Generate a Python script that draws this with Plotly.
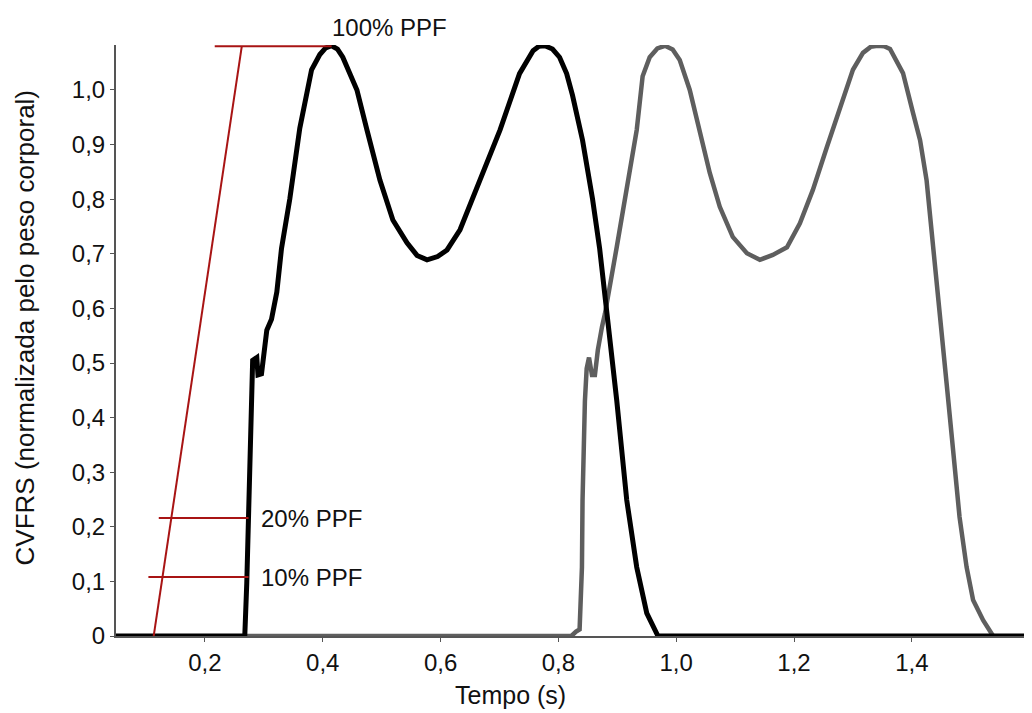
import plotly.graph_objects as go

# ---- data ----
black_t = [0.049, 0.2676, 0.271, 0.276, 0.2795, 0.281, 0.288, 0.290, 0.296, 0.305, 0.313, 0.322,
           0.330, 0.344, 0.361, 0.373, 0.381, 0.395, 0.405, 0.415, 0.425, 0.434, 0.458, 0.475,
           0.497, 0.519, 0.543, 0.560, 0.577, 0.595, 0.611, 0.633, 0.667, 0.701, 0.734, 0.757,
           0.767, 0.777, 0.790, 0.802, 0.814, 0.824, 0.841, 0.858, 0.870, 0.882, 0.899, 0.916,
           0.933, 0.950, 0.969, 1.604]
black_v = [0, 0, 0.097, 0.29, 0.41, 0.505, 0.51, 0.478, 0.48, 0.56, 0.58, 0.63,
           0.71, 0.80, 0.93, 0.99, 1.037, 1.065, 1.077, 1.081, 1.075, 1.06, 1.0, 0.927,
           0.835, 0.762, 0.72, 0.697, 0.689, 0.695, 0.707, 0.744, 0.835, 0.927, 1.03, 1.072,
           1.08, 1.081, 1.075, 1.06, 1.03, 0.99, 0.908, 0.80, 0.71, 0.60, 0.432, 0.249,
           0.126, 0.042, 0, 0]

gray_t = [0.268, 0.822, 0.830, 0.836, 0.840, 0.841, 0.845, 0.848, 0.852, 0.857, 0.862, 0.867,
          0.874, 0.879, 0.899, 0.916, 0.933, 0.943, 0.955, 0.968, 0.981, 0.994, 1.006, 1.023,
          1.040, 1.057, 1.074, 1.096, 1.120, 1.142, 1.164, 1.188, 1.210, 1.232, 1.256, 1.278,
          1.300, 1.317, 1.330, 1.342, 1.353, 1.363, 1.385, 1.402, 1.414, 1.425, 1.436, 1.448,
          1.459, 1.470, 1.481, 1.493, 1.504, 1.521, 1.538]
gray_v = [0, 0, 0.008, 0.012, 0.126, 0.249, 0.43, 0.49, 0.51, 0.478, 0.478, 0.524,
          0.566, 0.59, 0.712, 0.822, 0.927, 1.025, 1.06, 1.076, 1.081, 1.074, 1.055, 1.0,
          0.927, 0.848, 0.786, 0.731, 0.701, 0.689, 0.698, 0.712, 0.756, 0.817, 0.896, 0.969,
          1.037, 1.068, 1.079, 1.081, 1.08, 1.075, 1.031, 0.958, 0.908, 0.835, 0.72, 0.585,
          0.463, 0.341, 0.218, 0.126, 0.066, 0.029, 0]

onset_t = [0.113, 0.2625]
onset_v = [0.0, 1.08]

ppf_levels = [1.08, 0.216, 0.108]
ppf_start = [0.2166, 0.1216, 0.104]
ppf_end = [0.415, 0.274, 0.274]
ppf_labels = ["100% PPF", "20% PPF", "10% PPF"]

x_ticks = [0.2, 0.4, 0.6, 0.8, 1.0, 1.2, 1.4]
x_ticktext = ["0,2", "0,4", "0,6", "0,8", "1,0", "1,2", "1,4"]
y_ticks = [0, 0.1, 0.2, 0.3, 0.4, 0.5, 0.6, 0.7, 0.8, 0.9, 1.0]
y_ticktext = ["0", "0,1", "0,2", "0,3", "0,4", "0,5", "0,6", "0,7", "0,8", "0,9", "1,0"]

x_title = "Tempo (s)"
y_title = "CVFRS (normalizada pelo peso corporal)"

FONT = "Liberation Sans, Arial, sans-serif"
FS = 24
RED = "#a81414"
TXT = "#111111"

fig = go.Figure()

fig.add_trace(go.Scatter(x=gray_t, y=gray_v, mode="lines",
                         line=dict(color="#5e5e5e", width=4.5), hoverinfo="skip"))
fig.add_trace(go.Scatter(x=black_t, y=black_v, mode="lines",
                         line=dict(color="#000000", width=5), hoverinfo="skip"))

fig.add_trace(go.Scatter(x=onset_t, y=onset_v, mode="lines",
                         line=dict(color=RED, width=2), hoverinfo="skip"))
for lvl, s, e in zip(ppf_levels, ppf_start, ppf_end):
    fig.add_trace(go.Scatter(x=[s, e], y=[lvl, lvl], mode="lines",
                             line=dict(color=RED, width=2), hoverinfo="skip"))

# labels
fig.add_annotation(x=ppf_end[0], y=ppf_levels[0], text=ppf_labels[0], showarrow=False,
                   xanchor="left", yanchor="middle", xshift=-2, yshift=19,
                   font=dict(family=FONT, size=FS, color=TXT))
for lvl, e, lab in zip(ppf_levels[1:], ppf_end[1:], ppf_labels[1:]):
    fig.add_annotation(x=e, y=lvl, text=lab, showarrow=False,
                       xanchor="left", yanchor="middle", xshift=10,
                       font=dict(family=FONT, size=FS, color=TXT))

fig.add_annotation(x=0.719, y=-0.099, xref="x", yref="paper", text=x_title, showarrow=False,
                   xanchor="center", yanchor="middle",
                   font=dict(family=FONT, size=25, color=TXT))
fig.add_annotation(x=-0.099, y=0.521, xref="paper", yref="paper", text=y_title, showarrow=False,
                   textangle=-90, xanchor="center", yanchor="middle",
                   font=dict(family=FONT, size=26, color=TXT))

# page body has an 8px default margin, so the figure is placed at (8, 8)
fig.update_layout(
    width=1024, height=705,
    margin=dict(l=108, r=0, t=37, b=77),
    paper_bgcolor="white", plot_bgcolor="white",
    showlegend=False,
    font=dict(family=FONT, size=FS, color=TXT),
)
fig.update_xaxes(range=[0.049, 1.604], tickvals=x_ticks, ticktext=x_ticktext,
                 showgrid=False, zeroline=False, showline=True, linecolor="#555555",
                 linewidth=2, ticks="outside", ticklen=4, tickcolor="#555555",
                 tickfont=dict(family=FONT, size=FS, color=TXT))
fig.update_yaxes(range=[0, 1.0824], tickvals=y_ticks, ticktext=y_ticktext,
                 showgrid=False, zeroline=False, showline=True, linecolor="#555555",
                 linewidth=2, ticks="outside", ticklen=4, tickcolor="#555555",
                 tickfont=dict(family=FONT, size=FS, color=TXT))

fig.write_html("out.html")
